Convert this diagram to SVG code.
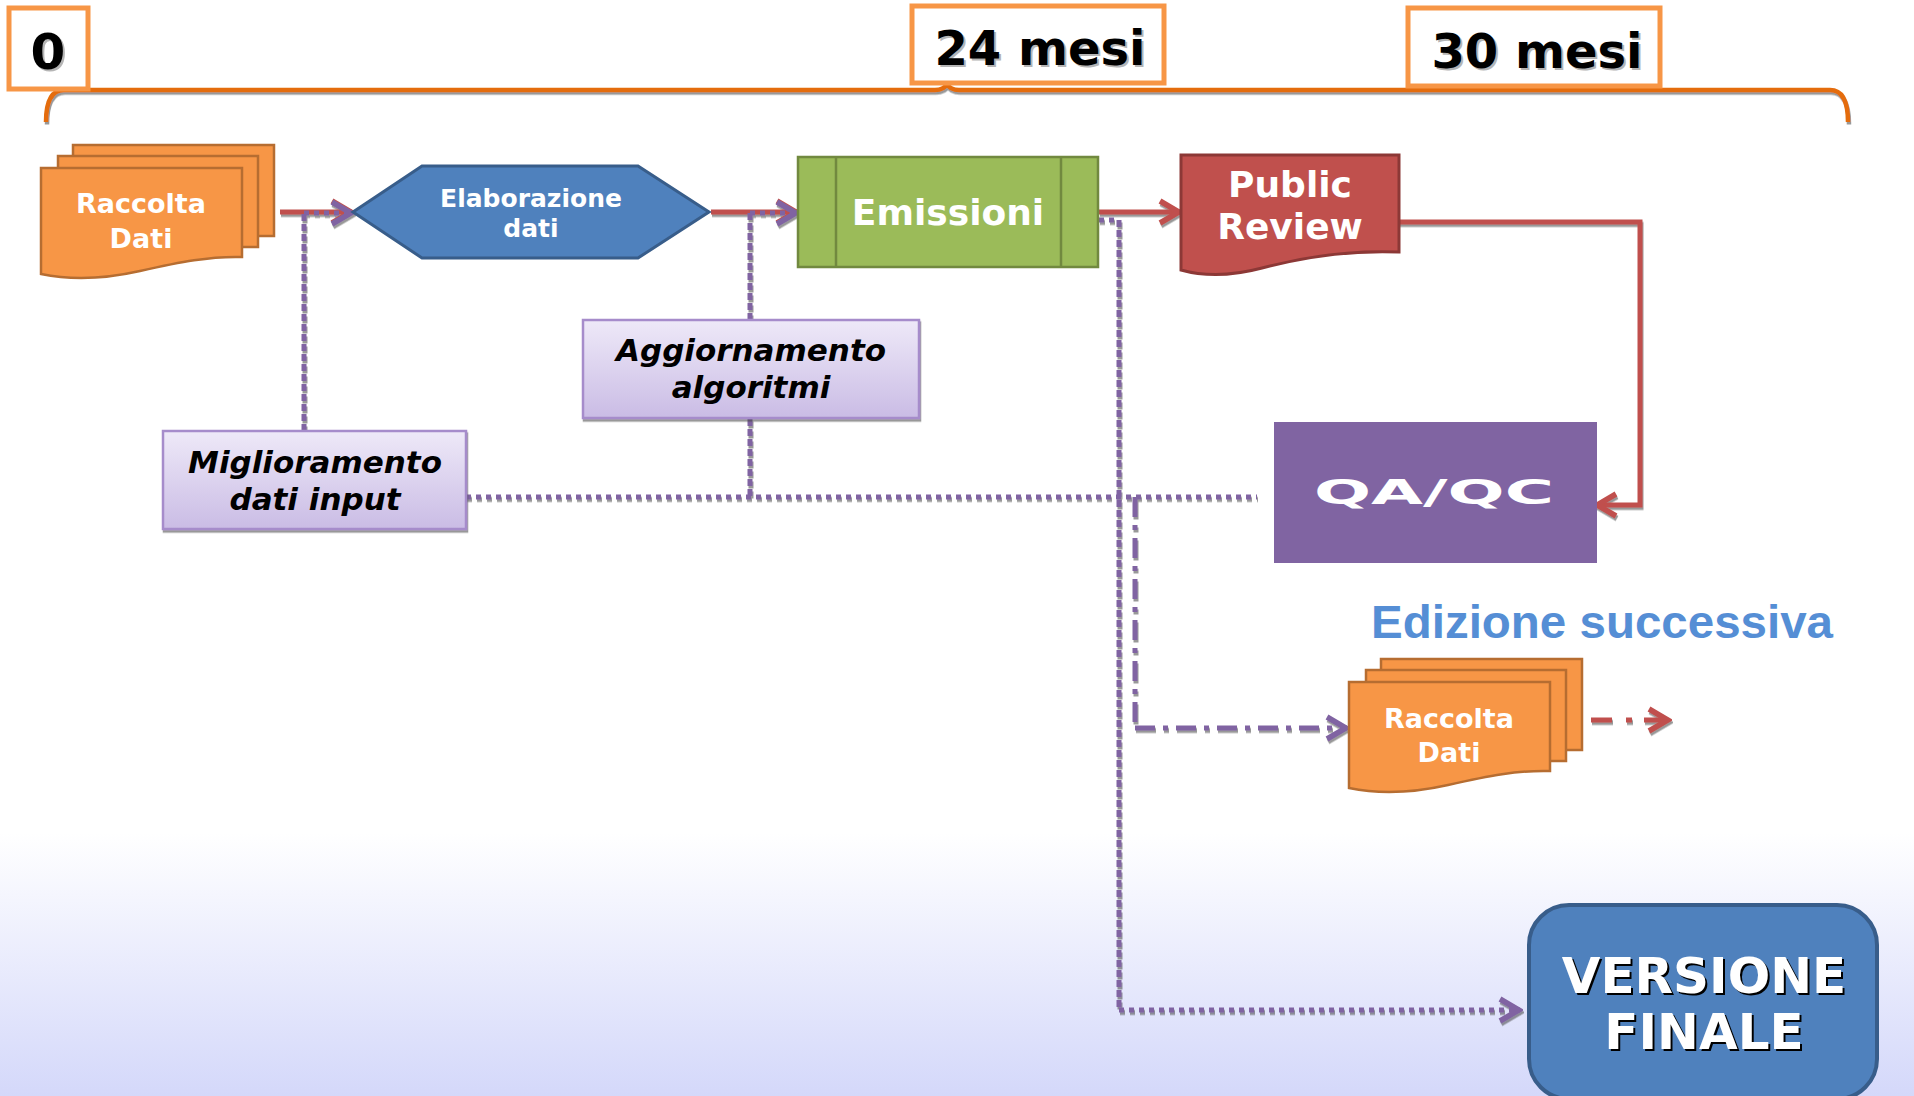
<svg xmlns="http://www.w3.org/2000/svg" width="1914" height="1096" viewBox="0 0 1914 1096">
<defs>
<linearGradient id="bg" x1="0" y1="0" x2="0" y2="1096" gradientUnits="userSpaceOnUse">
<stop offset="0" stop-color="#FFFFFF"/>
<stop offset="0.76" stop-color="#FFFFFF"/>
<stop offset="1" stop-color="#D4D8FA"/>
</linearGradient>
<linearGradient id="lav" x1="0" y1="0" x2="0" y2="1">
<stop offset="0" stop-color="#EEE9F8"/>
<stop offset="1" stop-color="#CABCE5"/>
</linearGradient>
<filter id="sh" x="-5%" y="-5%" width="110%" height="120%">
<feDropShadow dx="1" dy="2.5" stdDeviation="0.6" flood-color="#444" flood-opacity="0.55"/>
</filter>
<marker id="ar" viewBox="0 0 26 28" refX="23" refY="14" markerWidth="26" markerHeight="28" markerUnits="userSpaceOnUse" orient="auto">
<path d="M3,3 L22,14 L3,25" fill="none" stroke="#C0504D" stroke-width="5.5"/>
</marker>
<marker id="ap" viewBox="0 0 26 28" refX="23" refY="14" markerWidth="26" markerHeight="28" markerUnits="userSpaceOnUse" orient="auto">
<path d="M3,3 L22,14 L3,25" fill="none" stroke="#8064A2" stroke-width="5.5"/>
</marker>
<style>
.t{font-family:"DejaVu Sans",Verdana,sans-serif;font-weight:bold;}
.w{fill:#FFFFFF;text-anchor:middle;}
.k{fill:#000000;text-anchor:middle;}
.sd{fill:#B5B5B5;text-anchor:middle;}
.it{font-style:italic;}
.ob{fill:#FFFFFF;stroke:#F79646;stroke-width:5;}
.org{fill:#F79646;stroke:#B66D31;stroke-width:2.5;}
.red{fill:none;stroke:#C0504D;stroke-width:5;}
.pv{fill:none;stroke:#8064A2;stroke-width:5;stroke-dasharray:7 3;}
.ph{fill:none;stroke:#8064A2;stroke-width:5;stroke-dasharray:5 5;}
.lavbox{fill:url(#lav);stroke:#A68CCB;stroke-width:2.5;}
</style>
</defs>
<rect x="0" y="0" width="1914" height="1096" fill="url(#bg)"/>

<g id="timeline">
<path d="M46,122 Q46,90 64,90 L935,90 Q944,90 947,84 Q950,90 959,90 L1830,90 Q1848,90 1848,122" fill="none" stroke="#E46C0A" stroke-width="4.5" filter="url(#sh)"/>
</g>

<g id="t0">
<rect class="ob" x="9" y="8" width="79" height="81"/>
<text class="t sd" x="50" y="71" font-size="50">0</text>
<text class="t k" x="48" y="69" font-size="50">0</text>
</g>
<g id="t24">
<rect class="ob" x="912" y="6" width="252" height="77"/>
<text class="t sd" x="1042" y="67" font-size="48">24 mesi</text>
<text class="t k" x="1040" y="65" font-size="48">24 mesi</text>
</g>
<g id="t30">
<rect class="ob" x="1408" y="8" width="252" height="78"/>
<text class="t sd" x="1539" y="70" font-size="48">30 mesi</text>
<text class="t k" x="1537" y="68" font-size="48">30 mesi</text>
</g>

<g id="connectors" filter="url(#sh)">
<path class="red" d="M280,212 L352,212" marker-end="url(#ar)"/>
<path class="red" d="M711,212 L797,212" marker-end="url(#ar)"/>
<path class="red" d="M1099,212 L1180,212" marker-end="url(#ar)"/>
<path class="red" d="M1378,222 L1640,222 L1640,505 L1596,505" marker-end="url(#ar)"/>
<path class="pv" d="M304,431 L304,213"/>
<path class="ph" d="M304,213 L352,213" marker-end="url(#ap)"/>
<path class="pv" d="M750,320 L750,213"/>
<path class="ph" d="M750,213 L797,213" marker-end="url(#ap)"/>
<path class="pv" d="M750,419 L750,497"/>
<path class="ph" d="M466,497 L1257,497"/>
<path class="ph" d="M1099,220 L1119,220"/>
<path class="pv" d="M1119,220 L1119,1010"/>
<path class="ph" d="M1119,1010 L1520,1010" marker-end="url(#ap)"/>
<path fill="none" stroke="#8064A2" stroke-width="5" stroke-dasharray="20 8 5 8" d="M1135,497 L1135,728"/>
<path fill="none" stroke="#8064A2" stroke-width="5" stroke-dasharray="20 8 5 8" d="M1135,728 L1347,728" marker-end="url(#ap)"/>
<path fill="none" stroke="#C0504D" stroke-width="5" stroke-dasharray="21 14 6 12" d="M1591,720 L1669,720" marker-end="url(#ar)"/>
</g>

<g id="raccolta1">
<rect class="org" x="73" y="145" width="201" height="91"/>
<rect class="org" x="58" y="156" width="200" height="91"/>
<path class="org" d="M41,168 H242 V257 C210,256 180,262 140,271 C100,280 70,280 41,274 Z"/>
<text class="t w" x="141" y="213" font-size="27">Raccolta</text>
<text class="t w" x="141" y="248" font-size="27">Dati</text>
</g>

<g id="elaborazione">
<path d="M353,212 L422,166 L638,166 L709,212 L638,258 L422,258 Z" fill="#4F81BD" stroke="#385D8A" stroke-width="3"/>
<text class="t w" x="531" y="207" font-size="25">Elaborazione</text>
<text class="t w" x="531" y="237" font-size="25">dati</text>
</g>

<g id="emissioni">
<rect x="798" y="157" width="300" height="110" fill="#9BBB59" stroke="#71893F" stroke-width="2.5"/>
<line x1="836" y1="157" x2="836" y2="267" stroke="#71893F" stroke-width="2.5"/>
<line x1="1061" y1="157" x2="1061" y2="267" stroke="#71893F" stroke-width="2.5"/>
<text class="t w" x="948" y="225" font-size="36">Emissioni</text>
</g>

<g id="publicreview">
<path d="M1181,155 H1399 V252 C1350,250 1300,258 1262,268 C1232,276 1206,277 1181,270 Z" fill="#C0504D" stroke="#8C3836" stroke-width="3"/>
<text class="t w" x="1290" y="197" font-size="36">Public</text>
<text class="t w" x="1290" y="239" font-size="36">Review</text>
</g>

<g id="aggiornamento">
<rect class="lavbox" x="583" y="320" width="336" height="98" filter="url(#sh)"/>
<text class="t k it" x="751" y="361" font-size="31">Aggiornamento</text>
<text class="t k it" x="751" y="398" font-size="31">algoritmi</text>
</g>

<g id="miglioramento">
<rect class="lavbox" x="163" y="431" width="303" height="98" filter="url(#sh)"/>
<text class="t k it" x="315" y="473" font-size="31">Miglioramento</text>
<text class="t k it" x="315" y="510" font-size="31">dati input</text>
</g>

<g id="qaqc">
<rect x="1274" y="422" width="323" height="141" fill="#8064A2"/>
<text class="t" x="1314" y="504" font-size="33" fill="#FFFFFF" textLength="240" lengthAdjust="spacingAndGlyphs">QA/QC</text>
</g>

<g id="edizione">
<text x="1371" y="638" font-family="'Liberation Sans',Arial,sans-serif" font-weight="bold" font-size="47" fill="#558ED5" textLength="462" lengthAdjust="spacingAndGlyphs">Edizione successiva</text>
</g>

<g id="raccolta2">
<rect class="org" x="1381" y="659" width="201" height="91"/>
<rect class="org" x="1366" y="670" width="200" height="91"/>
<path class="org" d="M1349,682 H1550 V771 C1518,770 1488,776 1448,785 C1408,794 1378,794 1349,788 Z"/>
<text class="t w" x="1449" y="728" font-size="27">Raccolta</text>
<text class="t w" x="1449" y="762" font-size="27">Dati</text>
</g>

<g id="versione">
<rect x="1529" y="905" width="348" height="194" rx="40" ry="40" fill="#4F81BD" stroke="#385D8A" stroke-width="4"/>
<text class="t" x="1706" y="995" font-size="50" fill="#000" text-anchor="middle">VERSIONE</text>
<text class="t w" x="1704" y="993" font-size="50">VERSIONE</text>
<text class="t" x="1706" y="1051" font-size="50" fill="#000" text-anchor="middle">FINALE</text>
<text class="t w" x="1704" y="1049" font-size="50">FINALE</text>
</g>
</svg>
